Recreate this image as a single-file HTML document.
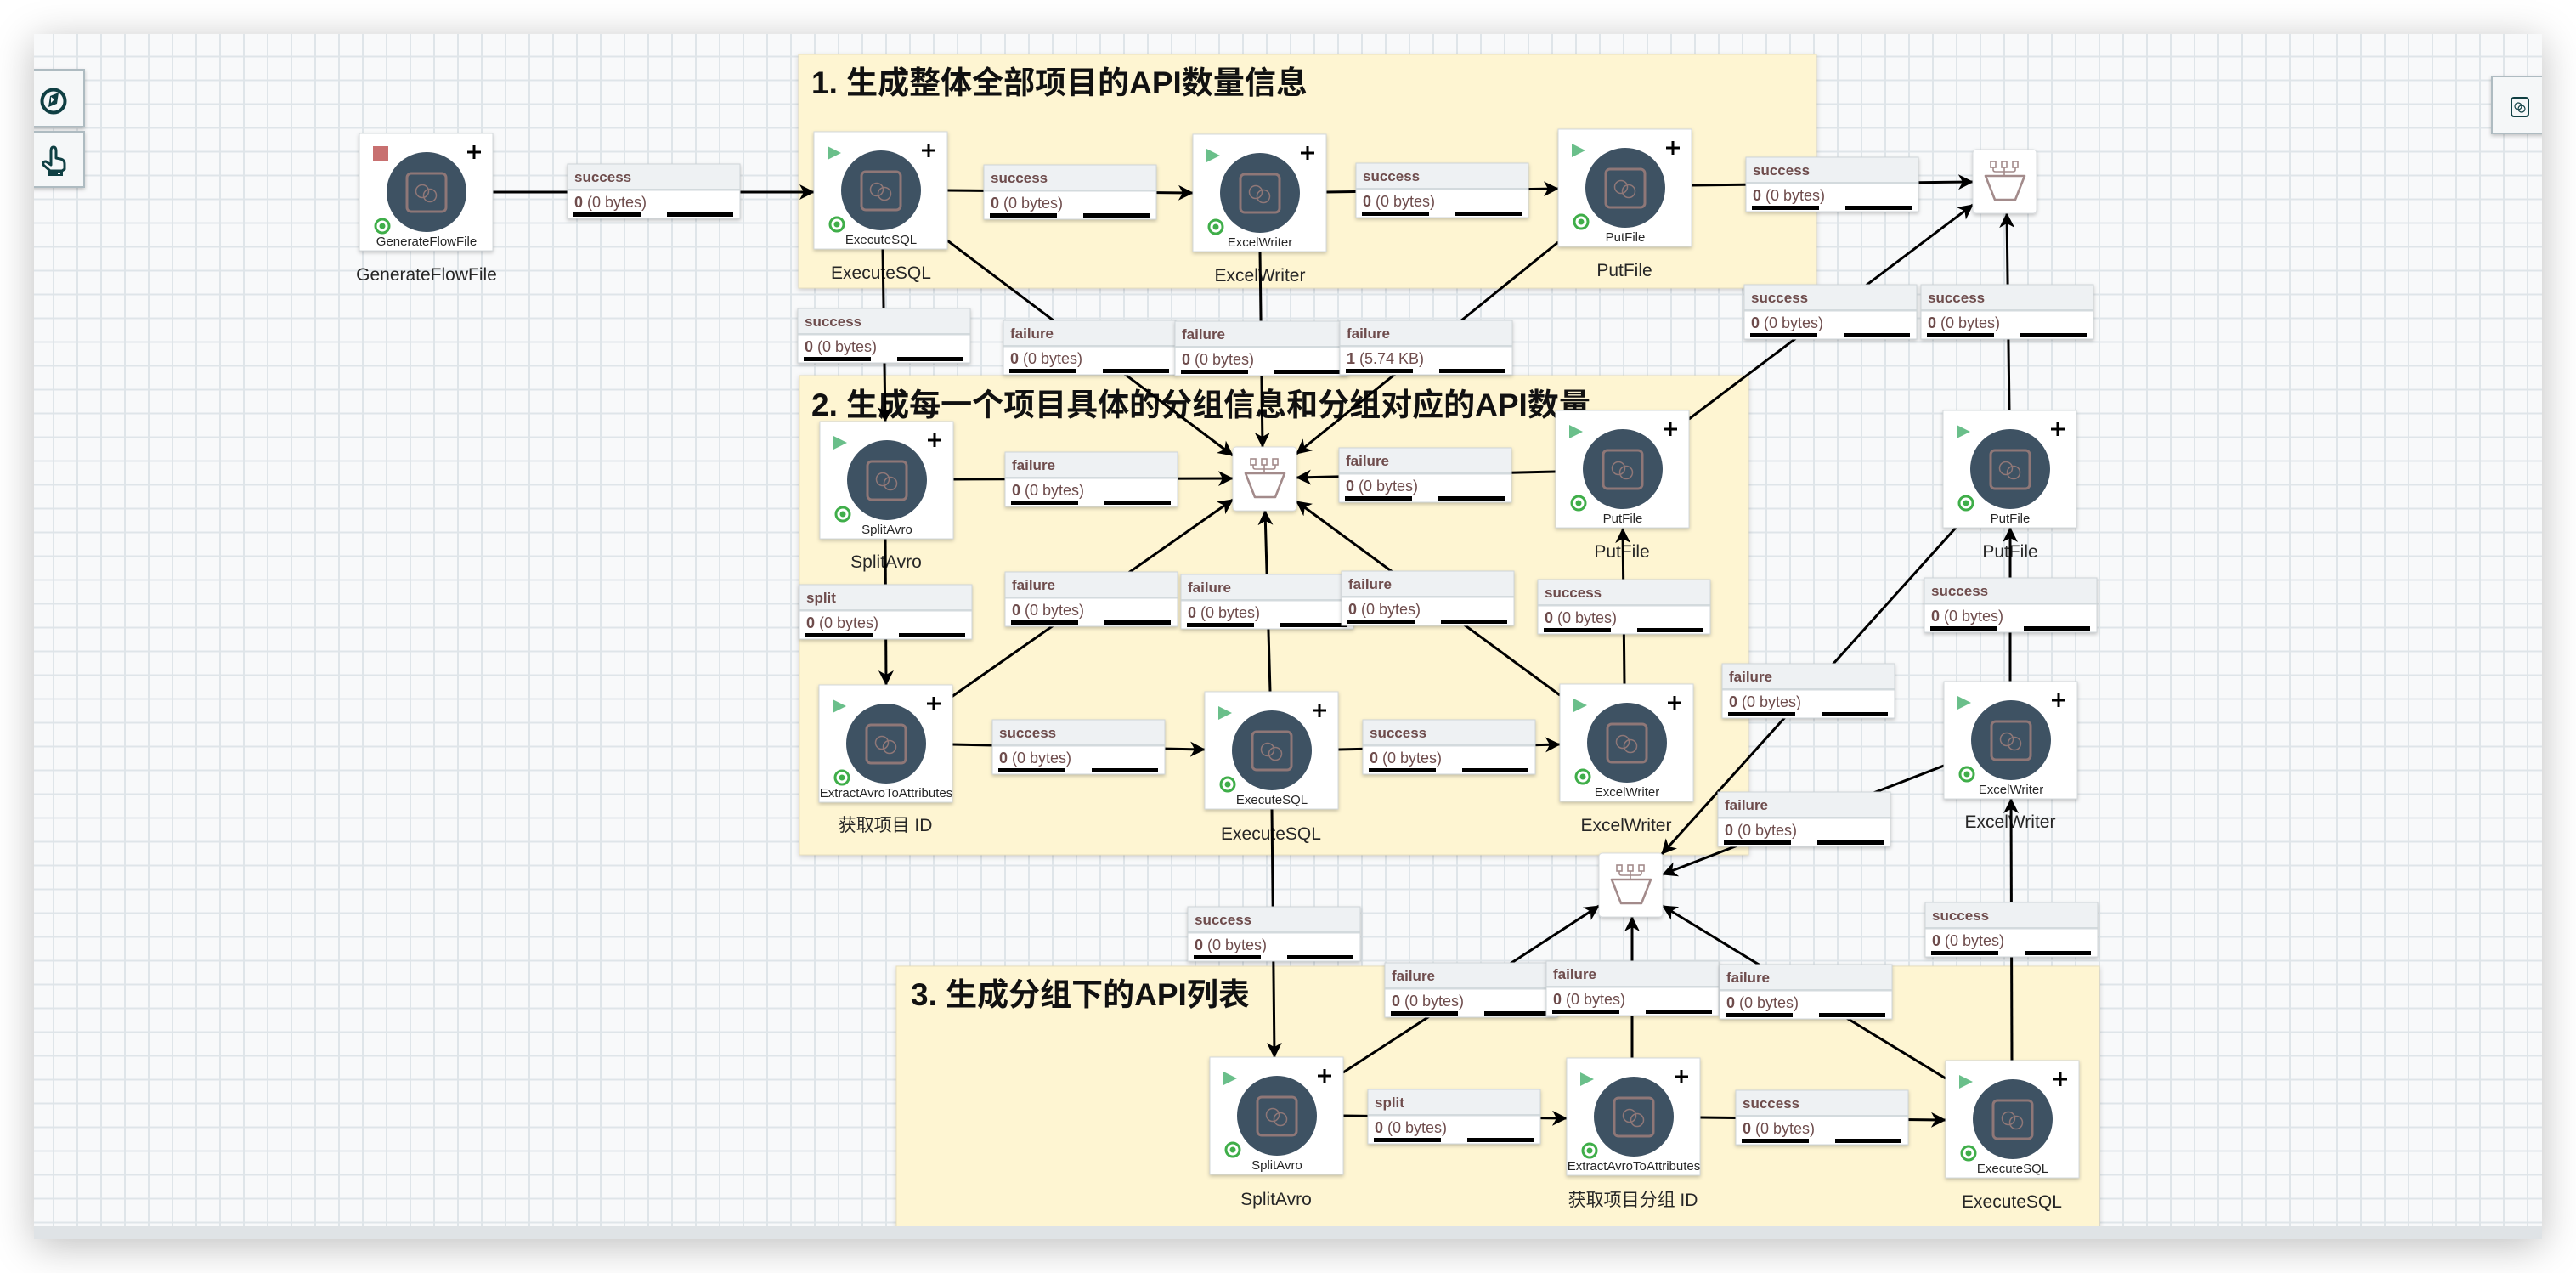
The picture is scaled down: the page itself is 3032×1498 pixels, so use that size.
<!DOCTYPE html>
<html><head><meta charset="utf-8">
<style>
html,body{margin:0;padding:0;background:#fff;}
body{width:3032px;height:1498px;position:relative;overflow:hidden;}
#frame{position:absolute;left:40px;top:40px;width:2952px;height:1418px;background:#dfe3e6;box-shadow:0 8px 44px rgba(0,0,0,0.26);}
svg{position:absolute;left:0;top:0;}
.h{font-family:"Liberation Sans","Noto Sans CJK SC",sans-serif;font-size:17px;font-weight:700;fill:#6e4c4c;}
.b{font-family:"Liberation Sans","Noto Sans CJK SC",sans-serif;font-size:18px;fill:#6e4c4c;}
.nl{font-family:"Liberation Sans","Noto Sans CJK SC",sans-serif;font-size:15px;fill:#262626;text-anchor:middle;}
.el{font-family:"Liberation Sans","Noto Sans CJK SC",sans-serif;font-size:21px;fill:#262626;text-anchor:middle;}
.tt{font-family:"Liberation Sans","Noto Sans CJK SC",sans-serif;font-size:37px;font-weight:700;fill:#111;}
</style></head>
<body>
<div id="frame"></div>
<svg width="3032" height="1498" viewBox="0 0 3032 1498" xmlns="http://www.w3.org/2000/svg">
<defs>
  <clipPath id="cv"><rect x="40" y="40" width="2952" height="1403"/></clipPath>
  <pattern id="grid" width="28" height="28" patternUnits="userSpaceOnUse">
    <rect x="6" y="0" width="2" height="28" fill="#dfe5e9"/>
    <rect x="0" y="9.5" width="28" height="2" fill="#dfe5e9"/>
  </pattern>
  <filter id="sh" x="-20%" y="-20%" width="140%" height="150%">
    <feDropShadow dx="0" dy="2" stdDeviation="2" flood-color="#000" flood-opacity="0.22"/>
  </filter>
  <filter id="gsh" x="-5%" y="-5%" width="110%" height="115%">
    <feDropShadow dx="0" dy="2" stdDeviation="3" flood-color="#000" flood-opacity="0.18"/>
  </filter>
  <marker id="ah" markerUnits="userSpaceOnUse" markerWidth="20" markerHeight="18" refX="17" refY="9" orient="auto">
    <path d="M0,0 L18,9 L0,18 L5,9 z" fill="#000"/>
  </marker>
  <g id="pb">
    <rect x="0" y="0" width="157" height="138" fill="#fff" stroke="#d3d8db" stroke-width="1" filter="url(#sh)"/>
    <path d="M135,14 V30 M127,22 H143" stroke="#000" stroke-width="3" fill="none"/>
    <circle cx="79" cy="69" r="47" fill="#3e5263"/>
    <rect x="56" y="47" width="46" height="45" rx="5" fill="none" stroke="#8f7777" stroke-width="3"/>
    <circle cx="74" cy="68" r="7.5" fill="none" stroke="#8f7777" stroke-width="1.5"/>
    <circle cx="83" cy="73" r="7.5" fill="none" stroke="#8f7777" stroke-width="1.5"/>
    <circle cx="27" cy="109" r="8" fill="none" stroke="#3fae49" stroke-width="3"/>
    <circle cx="27" cy="109" r="3.5" fill="#3fae49"/>
  </g>
  <path id="play" d="M16,17 L32,25 L16,33 z" fill="#6abf8a"/>
  <g id="fn">
    <rect x="0" y="0" width="75" height="75" rx="4" fill="#fff" stroke="#d8dcdf" stroke-width="1" filter="url(#sh)"/>
    <g fill="none" stroke="#a38b8b" stroke-width="1.6">
      <rect x="21" y="14" width="6" height="7"/>
      <rect x="34" y="14" width="6" height="7"/>
      <rect x="47" y="14" width="6" height="7"/>
      <path d="M24,21 V24 Q24,26 27,26 H47 Q50,26 50,24 V21 M37,21 V31"/>
    </g>
    <path d="M15,31 L61,31 L50,59 L26,59 Z" fill="none" stroke="#a38b8b" stroke-width="2.6" stroke-linejoin="round"/>
  </g>
  <g id="lb">
    <rect x="0" y="0" width="203" height="64" fill="#fff" stroke="#cfd5d8" stroke-width="1" filter="url(#sh)"/>
    <rect x="0.5" y="0.5" width="202" height="29" fill="#eef1f3"/>
    <rect x="0.5" y="29" width="202" height="2.5" fill="#d3dadd"/>
    <rect x="7" y="57" width="79" height="5" fill="#000"/>
    <rect x="117" y="57" width="78" height="5" fill="#000"/>
  </g>
</defs>

<g clip-path="url(#cv)">
  <rect x="40" y="40" width="2952" height="1403" fill="#f8f9fa"/>
  <rect x="40" y="40" width="2952" height="1403" fill="url(#grid)"/>

  <!-- Groups -->
  <rect x="940" y="64" width="1198" height="275" fill="#fef5d2" stroke="#e8dfbd" stroke-width="1" filter="url(#gsh)"/>
  <rect x="941" y="442" width="1117" height="564" fill="#fef5d2" stroke="#e8dfbd" stroke-width="1" filter="url(#gsh)"/>
  <rect x="1055" y="1137" width="1416" height="340" fill="#fef5d2" stroke="#e8dfbd" stroke-width="1" filter="url(#gsh)"/>

  <text class="tt" x="955" y="110">1. 生成整体全部项目的API数量信息</text>
  <text class="tt" x="955" y="489">2. 生成每一个项目具体的分组信息和分组对应的API数量</text>
  <text class="tt" x="1072" y="1183">3. 生成分组下的API列表</text>

  <!-- external labels -->
  <text class="el" x="502" y="330">GenerateFlowFile</text>
  <text class="el" x="1037" y="328">ExecuteSQL</text>
  <text class="el" x="1483" y="331">ExcelWriter</text>
  <text class="el" x="1912" y="325">PutFile</text>
  <text class="el" x="2366" y="656">PutFile</text>
  <text class="el" x="2366" y="974">ExcelWriter</text>
  <text class="el" x="1043" y="668">SplitAvro</text>
  <text class="el" x="1909" y="656">PutFile</text>
  <text class="el" x="1042" y="978">获取项目 ID</text>
  <text class="el" x="1496" y="988">ExecuteSQL</text>
  <text class="el" x="1914" y="978">ExcelWriter</text>
  <text class="el" x="1502" y="1418">SplitAvro</text>
  <text class="el" x="1922" y="1419">获取项目分组 ID</text>
  <text class="el" x="2368" y="1421">ExecuteSQL</text>

  <!-- connections -->
  <g stroke="#000" stroke-width="3" fill="none" marker-end="url(#ah)">
    <path d="M580,226 L958,226"/>
    <path d="M1115,224 L1404,227"/>
    <path d="M1561,226 L1834,222"/>
    <path d="M1991,218 L2322,214"/>
    <path d="M1039,293 L1042,496"/>
    <path d="M1115,283 L1451,536"/>
    <path d="M1483,296 L1486,526"/>
    <path d="M1834,285 L1526,534"/>
    <path d="M1122,564 L1451,563"/>
    <path d="M1831,555 L1526,562"/>
    <path d="M1042,634 L1043,806"/>
    <path d="M1120,820 L1451,588"/>
    <path d="M1495,814 L1489,601"/>
    <path d="M1836,818 L1526,590"/>
    <path d="M1120,876 L1418,882"/>
    <path d="M1575,882 L1836,876"/>
    <path d="M1912,805 L1910,622"/>
    <path d="M1988,493 L2322,241"/>
    <path d="M2365,483 L2362,251"/>
    <path d="M2366,802 L2366,621"/>
    <path d="M2302,621 L1956,1005"/>
    <path d="M2288,901 L1957,1029"/>
    <path d="M1497,952 L1500,1244"/>
    <path d="M2368,1248 L2367,940"/>
    <path d="M1581,1262 L1882,1066"/>
    <path d="M1921,1245 L1921,1079"/>
    <path d="M2290,1269 L1957,1066"/>
    <path d="M1580,1313 L1844,1316"/>
    <path d="M2001,1315 L2290,1318"/>
  </g>

  <!-- processors -->
  <g transform="translate(423,157)"><use href="#pb"/><rect x="16" y="15" width="18" height="18" fill="#c87070"/><text class="nl" x="79" y="132">GenerateFlowFile</text></g>
  <g transform="translate(958,155)"><use href="#pb"/><use href="#play"/><text class="nl" x="79" y="132">ExecuteSQL</text></g>
  <g transform="translate(1404,158)"><use href="#pb"/><use href="#play"/><text class="nl" x="79" y="132">ExcelWriter</text></g>
  <g transform="translate(1834,152)"><use href="#pb"/><use href="#play"/><text class="nl" x="79" y="132">PutFile</text></g>
  <g transform="translate(2287,483)"><use href="#pb"/><use href="#play"/><text class="nl" x="79" y="132">PutFile</text></g>
  <g transform="translate(2288,802)"><use href="#pb"/><use href="#play"/><text class="nl" x="79" y="132">ExcelWriter</text></g>
  <g transform="translate(965,496)"><use href="#pb"/><use href="#play"/><text class="nl" x="79" y="132">SplitAvro</text></g>
  <g transform="translate(1831,483)"><use href="#pb"/><use href="#play"/><text class="nl" x="79" y="132">PutFile</text></g>
  <g transform="translate(964,806)"><use href="#pb"/><use href="#play"/><text class="nl" x="79" y="132">ExtractAvroToAttributes</text></g>
  <g transform="translate(1418,814)"><use href="#pb"/><use href="#play"/><text class="nl" x="79" y="132">ExecuteSQL</text></g>
  <g transform="translate(1836,805)"><use href="#pb"/><use href="#play"/><text class="nl" x="79" y="132">ExcelWriter</text></g>
  <g transform="translate(1424,1244)"><use href="#pb"/><use href="#play"/><text class="nl" x="79" y="132">SplitAvro</text></g>
  <g transform="translate(1844,1245)"><use href="#pb"/><use href="#play"/><text class="nl" x="79" y="132">ExtractAvroToAttributes</text></g>
  <g transform="translate(2290,1248)"><use href="#pb"/><use href="#play"/><text class="nl" x="79" y="132">ExecuteSQL</text></g>

  <!-- funnels -->
  <use href="#fn" x="2322" y="176"/>
  <use href="#fn" x="1451" y="526"/>
  <use href="#fn" x="1882" y="1004"/>

  <!-- connection labels -->
  <g transform="translate(668,193)"><use href="#lb"/><text class="h" x="8" y="21">success</text><text class="b" x="8" y="51"><tspan font-weight="700">0</tspan> (0 bytes)</text></g>
  <g transform="translate(1158,194)"><use href="#lb"/><text class="h" x="8" y="21">success</text><text class="b" x="8" y="51"><tspan font-weight="700">0</tspan> (0 bytes)</text></g>
  <g transform="translate(1596,192)"><use href="#lb"/><text class="h" x="8" y="21">success</text><text class="b" x="8" y="51"><tspan font-weight="700">0</tspan> (0 bytes)</text></g>
  <g transform="translate(2055,185)"><use href="#lb"/><text class="h" x="8" y="21">success</text><text class="b" x="8" y="51"><tspan font-weight="700">0</tspan> (0 bytes)</text></g>
  <g transform="translate(939,363)"><use href="#lb"/><text class="h" x="8" y="21">success</text><text class="b" x="8" y="51"><tspan font-weight="700">0</tspan> (0 bytes)</text></g>
  <g transform="translate(1181,377)"><use href="#lb"/><text class="h" x="8" y="21">failure</text><text class="b" x="8" y="51"><tspan font-weight="700">0</tspan> (0 bytes)</text></g>
  <g transform="translate(1383,378)"><use href="#lb"/><text class="h" x="8" y="21">failure</text><text class="b" x="8" y="51"><tspan font-weight="700">0</tspan> (0 bytes)</text></g>
  <g transform="translate(1577,377)"><use href="#lb"/><text class="h" x="8" y="21">failure</text><text class="b" x="8" y="51"><tspan font-weight="700">1</tspan> (5.74 KB)</text></g>
  <g transform="translate(1183,532)"><use href="#lb"/><text class="h" x="8" y="21">failure</text><text class="b" x="8" y="51"><tspan font-weight="700">0</tspan> (0 bytes)</text></g>
  <g transform="translate(1576,527)"><use href="#lb"/><text class="h" x="8" y="21">failure</text><text class="b" x="8" y="51"><tspan font-weight="700">0</tspan> (0 bytes)</text></g>
  <g transform="translate(941,688)"><use href="#lb"/><text class="h" x="8" y="21">split</text><text class="b" x="8" y="51"><tspan font-weight="700">0</tspan> (0 bytes)</text></g>
  <g transform="translate(1183,673)"><use href="#lb"/><text class="h" x="8" y="21">failure</text><text class="b" x="8" y="51"><tspan font-weight="700">0</tspan> (0 bytes)</text></g>
  <g transform="translate(1390,676)"><use href="#lb"/><text class="h" x="8" y="21">failure</text><text class="b" x="8" y="51"><tspan font-weight="700">0</tspan> (0 bytes)</text></g>
  <g transform="translate(1579,672)"><use href="#lb"/><text class="h" x="8" y="21">failure</text><text class="b" x="8" y="51"><tspan font-weight="700">0</tspan> (0 bytes)</text></g>
  <g transform="translate(1168,847)"><use href="#lb"/><text class="h" x="8" y="21">success</text><text class="b" x="8" y="51"><tspan font-weight="700">0</tspan> (0 bytes)</text></g>
  <g transform="translate(1604,847)"><use href="#lb"/><text class="h" x="8" y="21">success</text><text class="b" x="8" y="51"><tspan font-weight="700">0</tspan> (0 bytes)</text></g>
  <g transform="translate(1810,682)"><use href="#lb"/><text class="h" x="8" y="21">success</text><text class="b" x="8" y="51"><tspan font-weight="700">0</tspan> (0 bytes)</text></g>
  <g transform="translate(2053,335)"><use href="#lb"/><text class="h" x="8" y="21">success</text><text class="b" x="8" y="51"><tspan font-weight="700">0</tspan> (0 bytes)</text></g>
  <g transform="translate(2261,335)"><use href="#lb"/><text class="h" x="8" y="21">success</text><text class="b" x="8" y="51"><tspan font-weight="700">0</tspan> (0 bytes)</text></g>
  <g transform="translate(2265,680)"><use href="#lb"/><text class="h" x="8" y="21">success</text><text class="b" x="8" y="51"><tspan font-weight="700">0</tspan> (0 bytes)</text></g>
  <g transform="translate(2027,781)"><use href="#lb"/><text class="h" x="8" y="21">failure</text><text class="b" x="8" y="51"><tspan font-weight="700">0</tspan> (0 bytes)</text></g>
  <g transform="translate(2022,932)"><use href="#lb"/><text class="h" x="8" y="21">failure</text><text class="b" x="8" y="51"><tspan font-weight="700">0</tspan> (0 bytes)</text></g>
  <g transform="translate(1398,1067)"><use href="#lb"/><text class="h" x="8" y="21">success</text><text class="b" x="8" y="51"><tspan font-weight="700">0</tspan> (0 bytes)</text></g>
  <g transform="translate(2266,1062)"><use href="#lb"/><text class="h" x="8" y="21">success</text><text class="b" x="8" y="51"><tspan font-weight="700">0</tspan> (0 bytes)</text></g>
  <g transform="translate(1630,1133)"><use href="#lb"/><text class="h" x="8" y="21">failure</text><text class="b" x="8" y="51"><tspan font-weight="700">0</tspan> (0 bytes)</text></g>
  <g transform="translate(1820,1131)"><use href="#lb"/><text class="h" x="8" y="21">failure</text><text class="b" x="8" y="51"><tspan font-weight="700">0</tspan> (0 bytes)</text></g>
  <g transform="translate(2024,1135)"><use href="#lb"/><text class="h" x="8" y="21">failure</text><text class="b" x="8" y="51"><tspan font-weight="700">0</tspan> (0 bytes)</text></g>
  <g transform="translate(1610,1282)"><use href="#lb"/><text class="h" x="8" y="21">split</text><text class="b" x="8" y="51"><tspan font-weight="700">0</tspan> (0 bytes)</text></g>
  <g transform="translate(2043,1283)"><use href="#lb"/><text class="h" x="8" y="21">success</text><text class="b" x="8" y="51"><tspan font-weight="700">0</tspan> (0 bytes)</text></g>

  <!-- left side buttons -->
  <rect x="38" y="82" width="61" height="67" fill="#f5f7f8" stroke="#aebbc1" stroke-width="2" filter="url(#sh)"/>
  <rect x="38" y="155" width="61" height="65" fill="#f5f7f8" stroke="#aebbc1" stroke-width="2" filter="url(#sh)"/>
  <circle cx="63" cy="119" r="13.5" fill="none" stroke="#0f3f43" stroke-width="4"/>
  <path d="M57,126 L59,113 L69,109 L67,122 Z" fill="#0f3f43"/>
  <path d="M60,114 L64,117 L60,121 Z" fill="#f5f7f8"/>
  <path d="M60,178 Q60,173 63,173 Q66,173 66,178 V186 L71,187 Q76,188 76,193 V199 L73,201 H59 L51,194 Q50,190 54,190 L60,194 Z" fill="none" stroke="#0f3f43" stroke-width="3" stroke-linejoin="round"/>
  <rect x="57" y="200" width="17" height="7" fill="#0f3f43"/>
  <rect x="68" y="203" width="3" height="2" fill="#f5f7f8"/>

  <!-- right side button -->
  <rect x="2933" y="90" width="61" height="67" fill="#f5f7f8" stroke="#aebbc1" stroke-width="2" filter="url(#sh)"/>
  <rect x="2956" y="115" width="20" height="22" rx="3" fill="none" stroke="#0f3f43" stroke-width="2"/>
  <circle cx="2964" cy="125" r="4" fill="none" stroke="#0f3f43" stroke-width="1.2"/>
  <circle cx="2968" cy="128" r="4" fill="none" stroke="#0f3f43" stroke-width="1.2"/>
</g>
</svg>
</body></html>
